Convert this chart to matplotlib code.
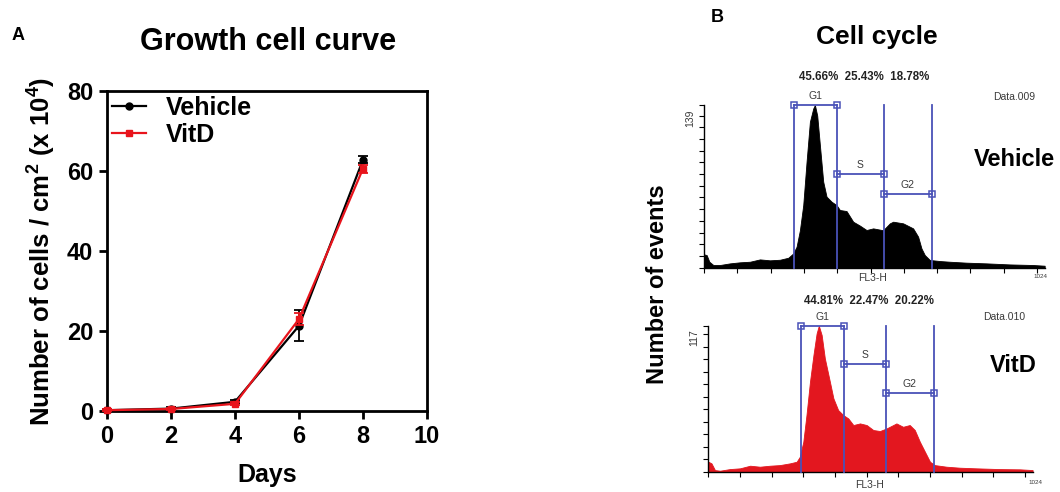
import matplotlib
matplotlib.use("Agg")
import matplotlib.pyplot as plt
from matplotlib.ticker import NullFormatter
from matplotlib.lines import Line2D

plt.rcParams['font.family'] = ['Liberation Sans', 'DejaVu Sans']
plt.rcParams['mathtext.fontset'] = 'custom'
plt.rcParams['mathtext.rm'] = 'Liberation Sans'
plt.rcParams['mathtext.bf'] = 'Liberation Sans:bold'

# ---------------- data: growth curve ----------------
days = [0, 2, 4, 6, 8]
vehicle = [0.2, 0.6, 2.3, 21.3, 62.8]
vehicle_err = [0.2, 0.3, 0.4, 3.9, 0.9]
vitd = [0.2, 0.5, 1.8, 23.0, 60.6]
vitd_err = [0.2, 0.3, 0.4, 1.4, 1.0]
x_ticks = [0, 2, 4, 6, 8, 10]
y_ticks = [0, 20, 40, 60, 80]

# ---------------- data: cell cycle histograms ----------------
veh_ch = [0, 8, 16, 28, 48, 78, 108, 138, 168, 198, 228, 253, 268, 278, 288, 298,
          308, 318, 328, 333, 340, 348, 358, 368, 383, 398, 408, 428, 448, 468, 488,
          508, 538, 558, 568, 598, 628, 643, 653, 663, 678, 708, 738, 788, 848, 918,
          988, 1023]
veh_ct = [11.4, 10.8, 5.1, 2.3, 2.3, 3.7, 4.6, 5.1, 7.1, 6.3, 6.8, 8.5, 12.2, 17.9,
          32, 53.5, 90.6, 124.7, 136, 139, 130, 104.8, 73.5, 60.7, 56.4, 53.5, 49.3,
          48.4, 39.3, 36, 32.2, 33.6, 32, 37.9, 39.3, 37.9, 33.6, 26.5, 16.5, 10.8,
          6.6, 5.7, 5.1, 4.3, 3.7, 2.8, 2.3, 1.7]
vit_ch = [0, 10, 21, 37, 68, 100, 132, 163, 195, 226, 258, 279, 289, 300, 310, 321,
          332, 342, 349, 358, 368, 384, 395, 410, 426, 442, 458, 479, 500, 521, 542,
          563, 584, 594, 615, 636, 652, 668, 684, 700, 715, 752, 794, 846, 920, 984,
          1024]
vit_ct = [8, 6.7, 1.3, 0.8, 2.1, 2.7, 4.8, 4.0, 4.8, 5.3, 6.7, 8, 12, 24, 45.4, 72,
          93.5, 110.8, 117, 109.5, 90.8, 72, 58.8, 49.4, 45.4, 42.7, 37.4, 38.7, 37.4,
          33.4, 32.6, 34.7, 37.4, 38.7, 36, 37.4, 33.4, 24, 16, 8, 5.3, 4.0, 3.2, 2.7,
          2.1, 1.9, 1.3]

gate_names = ['G1', 'S', 'G2']
veh_gates = [(271, 398), (398, 540), (540, 684)]
veh_levels = [139, 80.3, 62.7]
vit_gates = [(292, 430), (430, 560), (560, 712)]
vit_levels = [117, 86.5, 63.3]
veh_pct = ['45.66%', '25.43%', '18.78%']
vit_pct = ['44.81%', '22.47%', '20.22%']
veh_max = 139
vit_max = 117

W, H = 1060, 492
fig = plt.figure(figsize=(W / 100, H / 100), dpi=100)


def px(x0, y0, x1, y1):
    return [x0 / W, 1 - y1 / H, (x1 - x0) / W, (y1 - y0) / H]


# ---------------- panel A ----------------
ax = fig.add_axes(px(107, 91, 427, 411))
red = '#e8141c'
ax.errorbar(days, vehicle, yerr=vehicle_err, color='black', marker='o', ms=5,
            lw=1.6, capsize=3.5, capthick=1.3, elinewidth=1.3,
            clip_on=False, zorder=3)
ax.errorbar(days, vitd, yerr=vitd_err, color=red, marker='s', ms=5,
            lw=1.6, capsize=3.5, capthick=1.3, elinewidth=1.3,
            clip_on=False, zorder=4)
ax.set_xlim(0, 10)
ax.set_ylim(0, 80)
ax.set_xticks(x_ticks)
ax.set_yticks(y_ticks)
for s in ax.spines.values():
    s.set_linewidth(2.0)
ax.tick_params(direction='out', length=6, width=2.0, labelsize=17, pad=4)
for lab in ax.get_xticklabels() + ax.get_yticklabels():
    lab.set_fontweight('bold')
ax.set_xlabel('Days', fontsize=18, fontweight='bold')
ax.xaxis.set_label_coords(0.5, -0.163)
ax.set_ylabel(r'Number of cells / cm$^\mathbf{2}$ (x 10$^\mathbf{4}$)',
              fontsize=18.5, fontweight='bold')
ax.yaxis.set_label_coords(-0.157, 0.5)
handles = [Line2D([], [], color='black', marker='o', ms=5, lw=1.6),
           Line2D([], [], color=red, marker='s', ms=5, lw=1.6)]
ax.legend(handles, ['Vehicle', 'VitD'], loc='upper left', frameon=False,
          prop={'size': 18, 'weight': 'bold'}, handlelength=1.35,
          handletextpad=0.8, borderaxespad=0.0, borderpad=0.2, labelspacing=0.1)
fig.text(268 / W, 1 - 42 / H, 'Growth cell curve', ha='center', va='center',
         fontsize=22, fontweight='bold')
fig.text(18 / W, 1 - 35 / H, 'A', ha='center', va='center', fontsize=13,
         fontweight='bold')

# ---------------- panel B ----------------
fig.text(717 / W, 1 - 17 / H, 'B', ha='center', va='center', fontsize=13,
         fontweight='bold')
fig.text(877 / W, 1 - 37 / H, 'Cell cycle', ha='center', va='center',
         fontsize=19, fontweight='bold')
fig.text(657 / W, 1 - 284 / H, 'Number of events', rotation=90, ha='center',
         va='center', fontsize=17, fontweight='bold')

blue = '#4a52b8'
gray = '#3a3a3a'


def hist_panel(rect, ch, ct, color, gates, levels, ymax, pct, pct_xy, data_name,
               data_xy, cond, cond_xy, fl_xy, k_xy, ylab_xy):
    a = fig.add_axes(px(*rect))
    a.fill_between(ch, ct, 0, color=color, lw=0.6, edgecolor=color)
    a.set_xlim(0, 1024)
    a.set_ylim(0, ymax)
    a.spines['top'].set_visible(False)
    a.spines['right'].set_visible(False)
    for s in ('left', 'bottom'):
        a.spines[s].set_linewidth(1.0)
    a.set_xticks(range(0, 1001, 100))
    a.set_yticks(list(range(0, ymax, 10)) + [ymax])
    a.xaxis.set_major_formatter(NullFormatter())
    a.yaxis.set_major_formatter(NullFormatter())
    a.tick_params(direction='out', length=3.5, width=0.8)
    for name, (g0, g1), lev in zip(gate_names, gates, levels):
        a.plot([g0, g1], [lev, lev], color=blue, lw=1.3, marker='s', ms=5,
               mfc='none', mew=1.1, clip_on=False, zorder=5)
        a.annotate(name, xy=((g0 + g1) / 2, lev), xytext=(0, 3),
                   textcoords='offset points', ha='center', va='bottom',
                   fontsize=7.5, color=gray, annotation_clip=False)
    for x in sorted({g for pair in gates for g in pair}):
        a.plot([x, x], [0, ymax], color=blue, lw=1.3, clip_on=False, zorder=5)
    fig.text(pct_xy[0] / W, 1 - pct_xy[1] / H, '  '.join(pct), ha='center',
             va='center', fontsize=8.3, fontweight='bold', color='#222222')
    fig.text(data_xy[0] / W, 1 - data_xy[1] / H, data_name, ha='center',
             va='center', fontsize=7.5, color=gray)
    fig.text(cond_xy[0] / W, 1 - cond_xy[1] / H, cond, ha='center', va='center',
             fontsize=17, fontweight='bold')
    fig.text(fl_xy[0] / W, 1 - fl_xy[1] / H, 'FL3-H', ha='center', va='center',
             fontsize=7.5, color=gray)
    fig.text(k_xy[0] / W, 1 - k_xy[1] / H, '1024', ha='center', va='center',
             fontsize=4.5, color=gray)
    fig.text(ylab_xy[0] / W, 1 - ylab_xy[1] / H, str(ymax), rotation=90,
             ha='center', va='center', fontsize=7.5, color=gray)
    return a


hist_panel((704, 105, 1045, 267.7), veh_ch, veh_ct, 'black', veh_gates, veh_levels,
           veh_max, veh_pct, (864.5, 77), 'Data.009', (1014.5, 97), 'Vehicle',
           (1014, 160), (873, 278), (1040, 277), (690, 118))
hist_panel((708.3, 325.7, 1032.6, 471.7), vit_ch, vit_ct, '#e3171f', vit_gates,
           vit_levels, vit_max, vit_pct, (868.7, 301), 'Data.010', (1004, 317),
           'VitD', (1013, 366), (870, 485), (1035, 482), (694, 338))

fig.savefig('out.png', dpi=100)
